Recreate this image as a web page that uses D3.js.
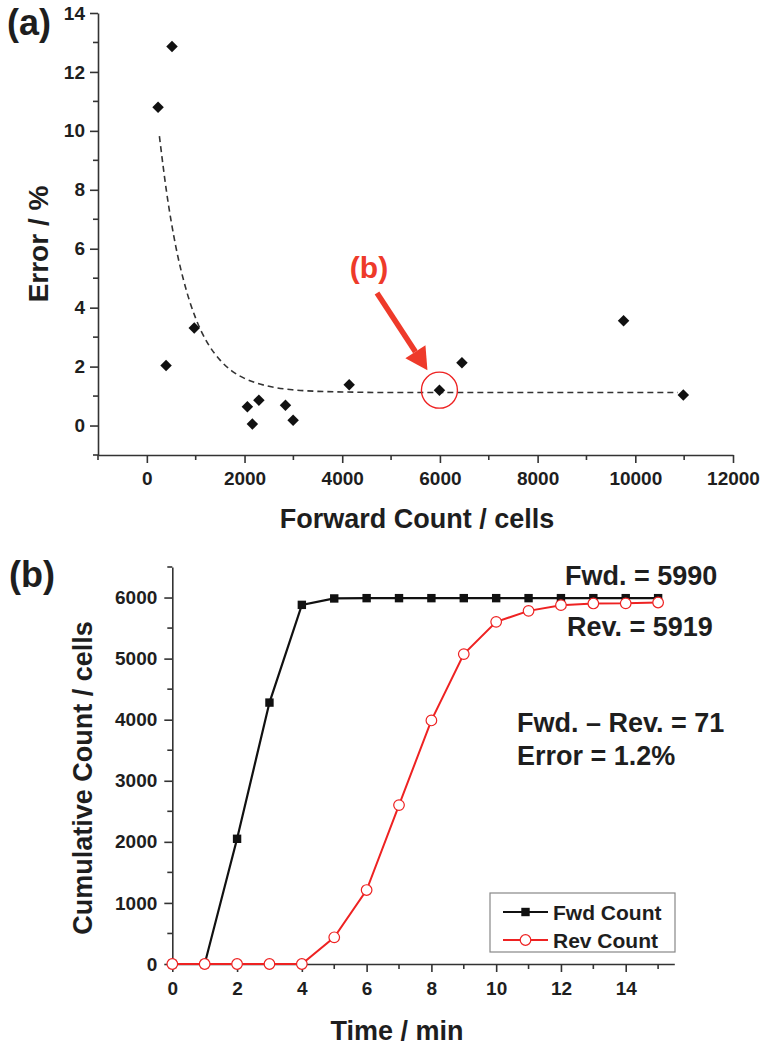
<!DOCTYPE html>
<html>
<head>
<meta charset="utf-8">
<script src="https://cdn.jsdelivr.net/npm/d3@7"></script>
<style>
  html, body { margin: 0; padding: 0; background: #fff; }
  svg { display: block; }
  text { font-family: "Liberation Sans", Arial, Helvetica, sans-serif; font-weight: bold; fill: #1e1e1e; }
</style>
</head>
<body>
<svg id="chart" width="762" height="1050"></svg>
<script>
// ---------- Panel (a) data ----------
const fwdCount = [230, 515, 393, 970, 2058, 2160, 2294, 2838, 2995, 4142, 5990, 6451, 9760, 10983];
const errorPct = [10.8, 12.86, 2.04, 3.31, 0.64, 0.05, 0.86, 0.69, 0.18, 1.38, 1.2, 2.13, 3.56, 1.04];
// dashed decay trend
const trendX = [257, 400, 590, 800, 1000, 1250, 1500, 1750, 2000, 2500, 3000, 3500, 4000, 5000, 7000, 9000, 10870];
const trendY = [9.82, 7.97, 6.1, 4.64, 3.64, 2.78, 2.22, 1.84, 1.6, 1.33, 1.21, 1.16, 1.14, 1.12, 1.12, 1.12, 1.12];
const xTicksA = [0, 2000, 4000, 6000, 8000, 10000, 12000];
const yTicksA = [0, 2, 4, 6, 8, 10, 12, 14];

// ---------- Panel (b) data ----------
const timeMin = [0, 1, 2, 3, 4, 5, 6, 7, 8, 9, 10, 11, 12, 13, 14, 15];
const fwdCum = [0, 0, 2050, 4280, 5880, 5985, 5990, 5990, 5990, 5990, 5990, 5990, 5990, 5990, 5990, 5990];
const revCum = [0, 0, 0, 0, 0, 437, 1211, 2602, 3988, 5074, 5602, 5782, 5875, 5903, 5905, 5919];
const xTicksB = [0, 2, 4, 6, 8, 10, 12, 14];
const yTicksB = [0, 1000, 2000, 3000, 4000, 5000, 6000];
const seriesNames = ["Fwd Count", "Rev Count"];
const notes = ["Fwd. = 5990", "Rev. = 5919", "Fwd. \u2013 Rev. = 71", "Error = 1.2%"];

const svg = d3.select("#chart");
const AX = "#333";
const RED = "#ee2222";

function styleAxis(g) {
  g.selectAll("path.domain").attr("stroke", AX).attr("stroke-width", 1.6);
  g.selectAll(".tick line").attr("stroke", AX).attr("stroke-width", 1.6);
  g.selectAll(".tick text").style("font-size", "19px").attr("fill", "#1e1e1e")
    .style("font-family", "'Liberation Sans', Arial, sans-serif").style("font-weight", "bold");
}
function minorTicks(g, scale, vals, orient, len) {
  vals.forEach(v => {
    const p = scale(v);
    const ln = g.append("line").attr("stroke", AX).attr("stroke-width", 1.6);
    if (orient === "left") ln.attr("x1", 0).attr("x2", -len).attr("y1", p).attr("y2", p);
    else ln.attr("y1", 0).attr("y2", len).attr("x1", p).attr("x2", p);
  });
}

// ================= Panel (a) =================
const xA = d3.scaleLinear().domain([-1000, 12000]).range([98, 733]);
const yA = d3.scaleLinear().domain([-1, 14]).range([455, 13]);

const gxA = svg.append("g").attr("transform", `translate(0,${yA(-1)})`)
  .call(d3.axisBottom(xA).tickValues(xTicksA).tickFormat(d3.format("d")).tickSize(8).tickPadding(9).tickSizeOuter(0));
styleAxis(gxA);
minorTicks(gxA, xA, [-1000, 1000, 3000, 5000, 7000, 9000, 11000], "bottom", 5);

const gyA = svg.append("g").attr("transform", `translate(${xA(-1000)},0)`)
  .call(d3.axisLeft(yA).tickValues(yTicksA).tickFormat(d3.format("d")).tickSize(8).tickPadding(5).tickSizeOuter(0));
styleAxis(gyA);
minorTicks(gyA, yA, [-1, 1, 3, 5, 7, 9, 11, 13], "left", 5);

// trend line
svg.append("path")
  .datum(trendX.map((x, i) => [x, trendY[i]]))
  .attr("fill", "none").attr("stroke", "#333").attr("stroke-width", 1.6)
  .attr("stroke-dasharray", "6,4")
  .attr("d", d3.line().x(d => xA(d[0])).y(d => yA(d[1])).curve(d3.curveMonotoneX));

// diamonds
svg.append("g").selectAll("path")
  .data(fwdCount.map((x, i) => [x, errorPct[i]]))
  .join("path")
  .attr("transform", d => `translate(${xA(d[0])},${yA(d[1])}) rotate(45)`)
  .attr("d", d3.symbol().type(d3.symbolSquare).size(66))
  .attr("fill", "#111");

// highlight circle around the (b) point
svg.append("circle")
  .attr("cx", xA(fwdCount[10])).attr("cy", yA(errorPct[10])).attr("r", 18)
  .attr("fill", "none").attr("stroke", RED).attr("stroke-width", 1.4);

// red arrow + "(b)" label
const ax0 = 377, ay0 = 293, ax1 = xA(fwdCount[10]) - 12, ay1 = yA(errorPct[10]) - 20;
const ang = Math.atan2(ay1 - ay0, ax1 - ax0);
const headLen = 22, headW = 12;
const bx = ax1 - headLen * Math.cos(ang), by = ay1 - headLen * Math.sin(ang);
svg.append("line").attr("x1", ax0).attr("y1", ay0).attr("x2", bx).attr("y2", by)
  .attr("stroke", "#ee3a2a").attr("stroke-width", 5.5);
svg.append("path")
  .attr("d", `M${ax1},${ay1} L${bx + headW * Math.sin(ang)},${by - headW * Math.cos(ang)} L${bx - headW * Math.sin(ang)},${by + headW * Math.cos(ang)} Z`)
  .attr("fill", "#ee3a2a");
svg.append("text").attr("x", 369).attr("y", 278).attr("text-anchor", "middle")
  .style("font-size", "30px").style("fill", "#ee3a2a").text("(b)");

// titles
svg.append("text").attr("x", 7).attr("y", 35).style("font-size", "36px").text("(a)");
svg.append("text").attr("transform", `translate(48,244) rotate(-90)`).attr("text-anchor", "middle")
  .style("font-size", "28px").text("Error / %");
svg.append("text").attr("x", 417).attr("y", 528).attr("text-anchor", "middle")
  .style("font-size", "27px").text("Forward Count / cells");

// ================= Panel (b) =================
const xB = d3.scaleLinear().domain([0, 15.5]).range([172.3, 674.3]);
const yB = d3.scaleLinear().domain([0, 6500]).range([964, 567]);

const gxB = svg.append("g").attr("transform", `translate(0,${yB(0)})`)
  .call(d3.axisBottom(xB).tickValues(xTicksB).tickFormat(d3.format("d")).tickSize(8).tickPadding(10).tickSizeOuter(0));
styleAxis(gxB);
minorTicks(gxB, xB, [1, 3, 5, 7, 9, 11, 13, 15], "bottom", 5);

const gyB = svg.append("g").attr("transform", `translate(${xB(0)},0)`)
  .call(d3.axisLeft(yB).tickValues(yTicksB).tickFormat(d3.format("d")).tickSize(8).tickPadding(7).tickSizeOuter(0));
styleAxis(gyB);
minorTicks(gyB, yB, [500, 1500, 2500, 3500, 4500, 5500, 6500], "left", 5);

const lineB = d3.line().x(d => xB(d[0])).y(d => yB(d[1]));
const fwdPts = timeMin.map((t, i) => [t, fwdCum[i]]);
const revPts = timeMin.map((t, i) => [t, revCum[i]]);

svg.append("path").datum(fwdPts).attr("fill", "none").attr("stroke", "#111").attr("stroke-width", 2.2).attr("d", lineB);
svg.append("g").selectAll("rect").data(fwdPts).join("rect")
  .attr("x", d => xB(d[0]) - 4.2).attr("y", d => yB(d[1]) - 4.2)
  .attr("width", 8.4).attr("height", 8.4).attr("fill", "#111");

svg.append("path").datum(revPts).attr("fill", "none").attr("stroke", RED).attr("stroke-width", 2).attr("d", lineB);
svg.append("g").selectAll("circle").data(revPts).join("circle")
  .attr("cx", d => xB(d[0])).attr("cy", d => yB(d[1])).attr("r", 5.3)
  .attr("fill", "#fff").attr("stroke", RED).attr("stroke-width", 1.2);

// annotations
svg.append("text").attr("x", 565).attr("y", 585).style("font-size", "27px").text(notes[0]);
svg.append("text").attr("x", 567).attr("y", 636).style("font-size", "27px").text(notes[1]);
svg.append("text").attr("x", 517).attr("y", 732).style("font-size", "27px").text(notes[2]);
svg.append("text").attr("x", 517).attr("y", 765).style("font-size", "27px").text(notes[3]);

// legend
const lg = svg.append("g").attr("transform", "translate(490,893)");
lg.append("rect").attr("width", 185).attr("height", 59).attr("fill", "#fff")
  .attr("stroke", "#888").attr("stroke-width", 1.2);
const legendRows = [
  { name: seriesNames[0], color: "#111", sym: "square", y: 19 },
  { name: seriesNames[1], color: RED, sym: "circle", y: 47 }
];
legendRows.forEach(r => {
  lg.append("line").attr("x1", 13).attr("x2", 58).attr("y1", r.y).attr("y2", r.y)
    .attr("stroke", r.color).attr("stroke-width", 2);
  if (r.sym === "square") {
    lg.append("rect").attr("x", 35.5 - 4.2).attr("y", r.y - 4.2).attr("width", 8.4).attr("height", 8.4).attr("fill", r.color);
  } else {
    lg.append("circle").attr("cx", 35.5).attr("cy", r.y).attr("r", 5.3).attr("fill", "#fff")
      .attr("stroke", r.color).attr("stroke-width", 1.2);
  }
  lg.append("text").attr("x", 63).attr("y", r.y + 7.5).style("font-size", "21px").text(r.name);
});

// titles (b)
svg.append("text").attr("x", 9).attr("y", 587).style("font-size", "36px").text("(b)");
svg.append("text").attr("transform", `translate(92,778) rotate(-90)`).attr("text-anchor", "middle")
  .style("font-size", "27px").text("Cumulative Count / cells");
svg.append("text").attr("x", 397).attr("y", 1040).attr("text-anchor", "middle")
  .style("font-size", "27px").text("Time / min");
</script>
</body>
</html>
